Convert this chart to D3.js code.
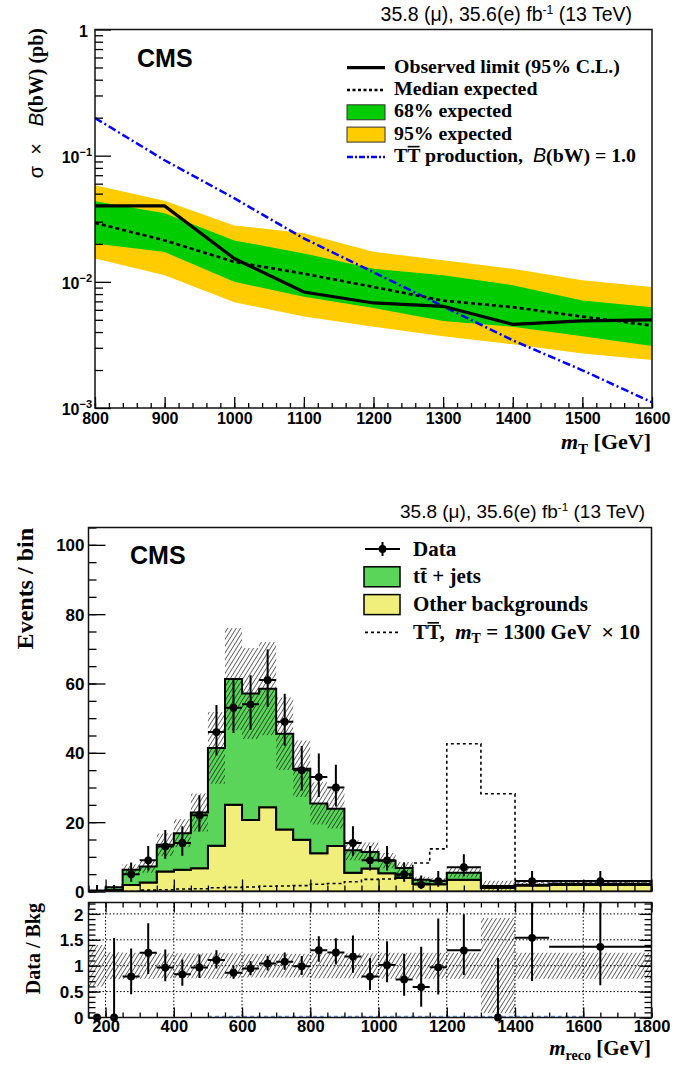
<!DOCTYPE html>
<html>
<head>
<meta charset="utf-8">
<script src="https://cdn.jsdelivr.net/npm/d3@7"></script>
<style>
body { margin: 0; background: #fff; }
svg { display: block; }
text { white-space: pre; }
</style>
</head>
<body>
<svg id="chart" width="690" height="1067"></svg>
<script>
// ---------- upper plot: cross section limits vs m_T
const massPoints = [800, 900, 1000, 1100, 1200, 1300, 1400, 1500, 1600];
const observed   = [0.040, 0.040, 0.0153, 0.0083, 0.0068, 0.0064, 0.0046, 0.0049, 0.0050];
const expMedian  = [0.0293, 0.0213, 0.0144, 0.0116, 0.0091, 0.0071, 0.0063, 0.0053, 0.0045];
const exp68Lo    = [0.0201, 0.0172, 0.0100, 0.0076, 0.0062, 0.0049, 0.0044, 0.0037, 0.0031];
const exp68Hi    = [0.0435, 0.0350, 0.0213, 0.0168, 0.0127, 0.0113, 0.0094, 0.0071, 0.0063];
const exp95Lo    = [0.0153, 0.0113, 0.0069, 0.0053, 0.0044, 0.0037, 0.0032, 0.0027, 0.0024];
const exp95Hi    = [0.0583, 0.0440, 0.0280, 0.0243, 0.0173, 0.0148, 0.0127, 0.0103, 0.0091];
const xsecTT     = [0.199, 0.092, 0.046, 0.0221, 0.0119, 0.0064, 0.00344, 0.00199, 0.00111];

// ---------- lower plot: m_reco distribution
const binEdges  = [150, 200, 250, 300, 350, 400, 450, 500, 550, 600, 650, 700, 750, 800, 850,
                   900, 950, 1000, 1050, 1100, 1150, 1200, 1300, 1400, 1500, 1800];
const ttJets    = [0.2, 0.8, 4.4, 4.6, 7.7, 10.5, 16.1, 28.2, 36.3, 36.5, 34.2, 27.6, 20.5, 14.4, 10.8,
                   6.5, 4.8, 3.6, 2.9, 1.2, 1.0, 2.0, 0.5, 0.25, 0.3];
const otherBkg  = [0.1, 0.4, 1.9, 2.6, 5.8, 6.3, 6.7, 13.2, 25.0, 20.6, 24.3, 17.9, 14.9, 11.0, 13.1,
                   5.4, 6.6, 5.3, 3.9, 2.2, 2.1, 3.4, 1.1, 1.7, 1.9];
const bkgRelUnc = [0.4, 0.26, 0.25, 0.25, 0.24, 0.24, 0.24, 0.25, 0.24, 0.23, 0.23, 0.23, 0.23, 0.24, 0.24,
                   0.24, 0.24, 0.25, 0.25, 0.25, 0.25, 0.25, 0.92, 0.25, 0.25];
const signalX10 = [0, 0, 0, 0.4, 0.5, 0.7, 0.8, 1.1, 1.2, 1.3, 1.5, 1.6, 1.7, 2.1, 2.3,
                   2.8, 3.5, 3.6, 4.5, 8.2, 12.3, 42.6, 28.2, 2.8, 2.8];
const dataCounts = [0, 0, 5, 9, 13, 14, 22, 46, 53, 54, 61, 49, 35, 33, 30, 14, 9, 9, 5, 2, 3, 7, 0, 3, 3];
const dataErrLo  = [0, 0, 2.16, 2.94, 3.58, 3.71, 4.66, 6.76, 7.26, 7.33, 7.80, 6.98, 5.89, 5.72, 5.46,
                    3.71, 2.94, 2.94, 2.16, 1.29, 1.63, 2.58, 0, 1.63, 1.63];
const dataErrHi  = [1.84, 1.84, 3.38, 4.11, 4.71, 4.85, 5.76, 7.83, 8.33, 8.40, 8.87, 8.05, 6.97, 6.80, 6.54,
                    4.85, 4.11, 4.11, 3.38, 2.64, 2.92, 3.77, 1.84, 2.92, 2.92];

const SANS = '"Liberation Sans", Arial, Helvetica, sans-serif';
const SERIF = '"Liberation Serif", "Times New Roman", serif';
const GREEN_BAND = '#00cc00', YELLOW_BAND = '#ffcc00';
const TT_COLOR = '#5ad55a', OTHER_COLOR = '#f0ef7c';

const svg = d3.select('#chart');
const defs = svg.append('defs');
defs.append('pattern')
    .attr('id', 'hatch').attr('patternUnits', 'userSpaceOnUse')
    .attr('width', 3.6).attr('height', 8)
    .attr('patternTransform', 'rotate(32)')
    .append('line')
    .attr('x1', 0).attr('y1', -1).attr('x2', 0).attr('y2', 9)
    .attr('stroke', '#000').attr('stroke-width', 1.15);

function styleAxis (g, size) {
    g.select('.domain').remove();
    g.attr('font-family', SANS).attr('font-size', size).attr('font-weight', 'bold');
    g.selectAll('line').attr('stroke', '#000').attr('stroke-width', 1.3);
    g.selectAll('text').attr('fill', '#000');
    return g;
}

function lumiLabel (right, y, size) {
    let t = svg.append('text').attr('x', right).attr('y', y)
        .attr('text-anchor', 'end').attr('font-family', SANS).attr('font-size', size);
    t.append('tspan').text('35.8 (\u03bc), 35.6(e) fb');
    t.append('tspan').attr('dy', -7).attr('font-size', size * 0.62).text('-1');
    t.append('tspan').attr('dy', 7).text(' (13 TeV)');
}

function cmsLabel (x, y) {
    svg.append('text').attr('x', x).attr('y', y)
        .attr('font-family', SANS).attr('font-weight', 'bold').attr('font-size', 25)
        .text('CMS');
}

// bar over one glyph of a text (the "anti" particle mark)
function overline (textSel, idx, baseline, size) {
    let ext = textSel.node().getExtentOfChar(idx);
    let y = baseline - size * 0.66 - 2.2;
    svg.append('line')
        .attr('x1', ext.x + 0.5).attr('x2', ext.x + ext.width - 0.5)
        .attr('y1', y).attr('y2', y)
        .attr('stroke', '#000').attr('stroke-width', 1.6);
}

// =================== upper plot ===================
const up = { l: 95, r: 652, t: 29.5, b: 408 };
const xT = d3.scaleLinear().domain([800, 1600]).range([up.l, up.r]);
const yT = d3.scaleLog().domain([1e-3, 1]).range([up.b, up.t]);

const limRows = massPoints.map((m, i) => ({
    m: m, obs: observed[i], med: expMedian[i],
    lo68: exp68Lo[i], hi68: exp68Hi[i], lo95: exp95Lo[i], hi95: exp95Hi[i], th: xsecTT[i],
}));

defs.append('clipPath').attr('id', 'clipTop')
    .append('rect').attr('x', up.l).attr('y', up.t).attr('width', up.r - up.l).attr('height', up.b - up.t);

const gTop = svg.append('g').attr('clip-path', 'url(#clipTop)');
gTop.append('path').datum(limRows)
    .attr('fill', YELLOW_BAND)
    .attr('d', d3.area().x(d => xT(d.m)).y0(d => yT(d.lo95)).y1(d => yT(d.hi95)));
gTop.append('path').datum(limRows)
    .attr('fill', GREEN_BAND)
    .attr('d', d3.area().x(d => xT(d.m)).y0(d => yT(d.lo68)).y1(d => yT(d.hi68)));
gTop.append('path').datum(limRows)
    .attr('fill', 'none').attr('stroke', '#0000ff').attr('stroke-width', 2.5)
    .attr('stroke-dasharray', '8,3,2,3')
    .attr('d', d3.line().x(d => xT(d.m)).y(d => yT(d.th)));
gTop.append('path').datum(limRows)
    .attr('fill', 'none').attr('stroke', '#000').attr('stroke-width', 2.6)
    .attr('stroke-dasharray', '4,3')
    .attr('d', d3.line().x(d => xT(d.m)).y(d => yT(d.med)));
gTop.append('path').datum(limRows)
    .attr('fill', 'none').attr('stroke', '#000').attr('stroke-width', 3.2)
    .attr('d', d3.line().x(d => xT(d.m)).y(d => yT(d.obs)));

// axes of the upper plot
styleAxis(svg.append('g').attr('transform', `translate(0,${up.b})`)
    .call(d3.axisBottom(xT).tickValues(d3.range(800, 1601, 100)).tickSize(-11).tickPadding(5)
        .tickFormat(d3.format('d'))), 16);
styleAxis(svg.append('g').attr('transform', `translate(0,${up.b})`)
    .call(d3.axisBottom(xT).tickValues(d3.range(800, 1601, 20)).tickSize(-5).tickFormat('')), 16);

const logMinor = [];
[1e-3, 1e-2, 1e-1].forEach(dec => { for (let k = 2; k <= 9; k++) logMinor.push(dec * k); });
styleAxis(svg.append('g').attr('transform', `translate(${up.l},0)`)
    .call(d3.axisLeft(yT).tickValues(logMinor).tickSize(-8).tickFormat('')), 16);
const yTopAxis = styleAxis(svg.append('g').attr('transform', `translate(${up.l},0)`)
    .call(d3.axisLeft(yT).tickValues([1e-3, 1e-2, 1e-1, 1]).tickSize(-16).tickPadding(3)), 16);
yTopAxis.selectAll('text').each(function (d) {
    let t = d3.select(this).text('').attr('dy', '0.42em');
    let p = Math.round(Math.log10(d));
    if (p === 0) { t.attr('dx', -4).append('tspan').text('1'); return; }
    t.append('tspan').text('10');
    t.append('tspan').attr('dy', -7).attr('font-size', 11).text('\u2212' + (-p));
});

svg.append('rect').attr('x', up.l).attr('y', up.t).attr('width', up.r - up.l).attr('height', up.b - up.t)
    .attr('fill', 'none').attr('stroke', '#111').attr('stroke-width', 1.5);

lumiLabel(632, 20.7, 19.5);
cmsLabel(137, 67);

// y title
let ytTop = svg.append('text').attr('transform', 'translate(43,28) rotate(-90)')
    .attr('text-anchor', 'end').attr('font-size', 20);
ytTop.append('tspan').attr('font-family', SANS).text('\u03c3  \u00d7   ');
ytTop.append('tspan').attr('font-family', SANS).attr('font-style', 'italic').text('B');
ytTop.append('tspan').attr('font-family', SERIF).attr('font-weight', 'bold').text('(bW) (pb)');

// x title
let xtTop = svg.append('text').attr('x', 651).attr('y', 449).attr('text-anchor', 'end')
    .attr('font-family', SERIF).attr('font-weight', 'bold').attr('font-size', 22);
xtTop.append('tspan').attr('font-style', 'italic').text('m');
xtTop.append('tspan').attr('font-size', 15).attr('dy', 5).text('T');
xtTop.append('tspan').attr('dy', -5).text(' [GeV]');

// legend of the upper plot
const topLegend = [
    { label: 'Observed limit (95% C.L.)', kind: 'line', stroke: '#000', width: 3.2, dash: null },
    { label: 'Median expected', kind: 'line', stroke: '#000', width: 2.6, dash: '3,2.5' },
    { label: '68% expected', kind: 'box', fill: GREEN_BAND },
    { label: '95% expected', kind: 'box', fill: YELLOW_BAND },
    { label: 'TT', kind: 'line', stroke: '#0000ff', width: 2.5, dash: '6,2,2,2' },
];
topLegend.forEach((e, i) => {
    let base = 72.7 + i * 22.3;
    let cy = base - 5;
    if (e.kind === 'line') {
        svg.append('line').attr('x1', 347).attr('x2', 385).attr('y1', cy).attr('y2', cy)
            .attr('stroke', e.stroke).attr('stroke-width', e.width)
            .attr('stroke-dasharray', e.dash);
    } else {
        svg.append('rect').attr('x', 347).attr('y', cy - 7.5).attr('width', 38).attr('height', 15)
            .attr('fill', e.fill).attr('stroke', '#333').attr('stroke-width', 1);
    }
    let t = svg.append('text').attr('x', 394).attr('y', base)
        .attr('font-family', SERIF).attr('font-weight', 'bold').attr('font-size', 19.8);
    if (i < 4) {
        t.text(e.label);
    } else {
        t.append('tspan').text('TT');
        t.append('tspan').text(' production,  ');
        t.append('tspan').attr('font-family', SANS).attr('font-weight', 'normal')
            .attr('font-style', 'italic').text('B');
        t.append('tspan').text('(bW) = 1.0');
        overline(t, 1, base, 19.8);
    }
});

// =================== lower plot ===================
const lo = { l: 88.5, r: 651.5, t: 527.5, b: 891.5 };
const rp = { t: 902.5, b: 1017.5 };
const xB = d3.scaleLinear().domain([150, 1800]).range([lo.l, lo.r]);
const yB = d3.scaleLinear().domain([0, 105]).range([lo.b, lo.t]);
const yR = d3.scaleLinear().domain([0, 2.22]).range([rp.b, rp.t]);

const bins = dataCounts.map((n, i) => ({
    x0: binEdges[i], x1: binEdges[i + 1], xc: (binEdges[i] + binEdges[i + 1]) / 2,
    tt: ttJets[i], other: otherBkg[i], sig: signalX10[i], rel: bkgRelUnc[i],
    n: n, eLo: dataErrLo[i], eHi: dataErrHi[i],
}));
const stacked = d3.stack().keys(['other', 'tt'])(bins);
bins.forEach((b, i) => { b.total = stacked[1][i][1]; });

// repeat last bin at the upper edge so that step curves close
function stepRows (rows, f0, f1) {
    let pts = rows.map(r => ({ x: r.x0, y0: f0(r), y1: f1(r) }));
    let last = rows[rows.length - 1];
    pts.push({ x: last.x1, y0: f0(last), y1: f1(last) });
    return pts;
}

defs.append('clipPath').attr('id', 'clipMain')
    .append('rect').attr('x', lo.l).attr('y', lo.t).attr('width', lo.r - lo.l).attr('height', lo.b - lo.t);
defs.append('clipPath').attr('id', 'clipRatio')
    .append('rect').attr('x', lo.l).attr('y', rp.t).attr('width', lo.r - lo.l).attr('height', rp.b - rp.t);

const gMain = svg.append('g').attr('clip-path', 'url(#clipMain)');
const stepArea = d3.area().curve(d3.curveStepAfter)
    .x(d => xB(d.x)).y0(d => yB(d.y0)).y1(d => yB(d.y1));

stacked.forEach((layer, k) => {
    let rows = bins.map((b, i) => ({ x0: b.x0, x1: b.x1, lo: layer[i][0], hi: layer[i][1] }));
    gMain.append('path').datum(stepRows(rows, r => r.lo, r => r.hi))
        .attr('fill', k === 0 ? OTHER_COLOR : TT_COLOR)
        .attr('stroke', '#000').attr('stroke-width', 2).attr('stroke-linejoin', 'miter')
        .attr('d', stepArea);
});

gMain.append('path').datum(stepRows(bins, b => b.total * (1 - b.rel), b => b.total * (1 + b.rel)))
    .attr('fill', 'url(#hatch)').attr('d', stepArea);

gMain.append('path').datum(stepRows(bins, () => 0, b => b.sig))
    .attr('fill', 'none').attr('stroke', '#000').attr('stroke-width', 1.6)
    .attr('stroke-dasharray', '3,3')
    .attr('d', d3.line().curve(d3.curveStepAfter).x(d => xB(d.x)).y(d => yB(d.y1)));

// data points on the main panel
const gData = gMain.append('g');
bins.forEach(b => {
    gData.append('line').attr('x1', xB(b.xc)).attr('x2', xB(b.xc))
        .attr('y1', yB(b.n - b.eLo)).attr('y2', yB(b.n + b.eHi))
        .attr('stroke', '#000').attr('stroke-width', 2);
    if (b.n > 0) {
        gData.append('line').attr('x1', xB(b.x0)).attr('x2', xB(b.x1))
            .attr('y1', yB(b.n)).attr('y2', yB(b.n))
            .attr('stroke', '#000').attr('stroke-width', 2);
        gData.append('circle').attr('cx', xB(b.xc)).attr('cy', yB(b.n)).attr('r', 3.9).attr('fill', '#000');
    }
});

// axes of main panel
styleAxis(svg.append('g').attr('transform', `translate(${lo.l},0)`)
    .call(d3.axisLeft(yB).tickValues(d3.range(0, 106, 5)).tickSize(-8).tickFormat('')), 17);
styleAxis(svg.append('g').attr('transform', `translate(${lo.l},0)`)
    .call(d3.axisLeft(yB).tickValues(d3.range(0, 101, 20)).tickSize(-17).tickPadding(4)), 17)
    .selectAll('text').attr('dy', '0.36em');
styleAxis(svg.append('g').attr('transform', `translate(0,${lo.b})`)
    .call(d3.axisBottom(xB).tickValues(d3.range(150, 1801, 50)).tickSize(-6).tickFormat('')), 17);
styleAxis(svg.append('g').attr('transform', `translate(0,${lo.b})`)
    .call(d3.axisBottom(xB).tickValues(d3.range(200, 1801, 200)).tickSize(-12).tickFormat('')), 17);

svg.append('rect').attr('x', lo.l).attr('y', lo.t).attr('width', lo.r - lo.l).attr('height', lo.b - lo.t)
    .attr('fill', 'none').attr('stroke', '#111').attr('stroke-width', 1.5);

lumiLabel(645, 518, 19);
cmsLabel(130, 564);

svg.append('text').attr('transform', 'translate(33,528) rotate(-90)').attr('text-anchor', 'end')
    .attr('font-family', SERIF).attr('font-weight', 'bold').attr('font-size', 24)
    .text('Events / bin');

// legend of the lower plot
const botLegend = ['Data', 'tt', 'Other backgrounds', 'TT'];
botLegend.forEach((lab, i) => {
    let cy = 549 + i * 27.8;
    let base = cy + 6.5;
    if (i === 0) {
        svg.append('line').attr('x1', 365).attr('x2', 400).attr('y1', cy).attr('y2', cy)
            .attr('stroke', '#000').attr('stroke-width', 2);
        svg.append('line').attr('x1', 382.5).attr('x2', 382.5).attr('y1', cy - 7).attr('y2', cy + 7)
            .attr('stroke', '#000').attr('stroke-width', 2);
        svg.append('circle').attr('cx', 382.5).attr('cy', cy).attr('r', 3.9).attr('fill', '#000');
    } else if (i < 3) {
        svg.append('rect').attr('x', 364).attr('y', cy - 10).attr('width', 36).attr('height', 20)
            .attr('fill', i === 1 ? TT_COLOR : OTHER_COLOR).attr('stroke', '#000').attr('stroke-width', 1.5);
    } else {
        svg.append('line').attr('x1', 365).attr('x2', 400).attr('y1', cy).attr('y2', cy)
            .attr('stroke', '#000').attr('stroke-width', 1.6).attr('stroke-dasharray', '3,3');
    }
    let t = svg.append('text').attr('x', 413).attr('y', base)
        .attr('font-family', SERIF).attr('font-weight', 'bold').attr('font-size', 21);
    if (i === 0 || i === 2) {
        t.text(lab);
    } else if (i === 1) {
        t.append('tspan').text('tt + jets');
        overline(t, 1, base + 1.5, 21);
    } else {
        t.append('tspan').text('TT,  ');
        t.append('tspan').attr('font-style', 'italic').text('m');
        t.append('tspan').attr('font-size', 14).attr('dy', 4).text('T');
        t.append('tspan').attr('dy', -4).text(' = 1300 GeV  ');
        t.append('tspan').attr('font-family', SANS).attr('font-weight', 'normal').text('\u00d7');
        t.append('tspan').text(' 10');
        overline(t, 1, base, 21);
    }
});

// =================== ratio panel ===================
const gRatio = svg.append('g').attr('clip-path', 'url(#clipRatio)');

// dotted grid
gRatio.selectAll('line.gx').data(d3.range(200, 1601, 200)).join('line')
    .attr('x1', d => xB(d)).attr('x2', d => xB(d)).attr('y1', rp.t).attr('y2', rp.b)
    .attr('stroke', '#000').attr('stroke-width', 1).attr('stroke-dasharray', '1.5,2');
gRatio.selectAll('line.gy').data([0.5, 1, 1.5, 2]).join('line')
    .attr('x1', lo.l).attr('x2', lo.r).attr('y1', d => yR(d)).attr('y2', d => yR(d))
    .attr('stroke', '#000').attr('stroke-width', 1).attr('stroke-dasharray', '1.5,2');

gRatio.append('path').datum(stepRows(bins, b => 1 - b.rel, b => 1 + b.rel))
    .attr('fill', 'url(#hatch)')
    .attr('d', d3.area().curve(d3.curveStepAfter).x(d => xB(d.x)).y0(d => yR(d.y0)).y1(d => yR(d.y1)));

gRatio.append('line').attr('x1', xB(500)).attr('x2', xB(1600)).attr('y1', yR(0) - 1).attr('y2', yR(0) - 1)
    .attr('stroke', '#6f93cf').attr('stroke-width', 1.5).attr('stroke-dasharray', '4,3');

const gRatioPts = svg.append('g').attr('clip-path', 'url(#clipRatio)');
bins.forEach(b => {
    let r = b.n / b.total;
    if (b.total > 0.5) {
        gRatioPts.append('line').attr('x1', xB(b.xc)).attr('x2', xB(b.xc))
            .attr('y1', yR(r - b.eLo / b.total)).attr('y2', yR(r + b.eHi / b.total))
            .attr('stroke', '#000').attr('stroke-width', 2);
    }
    if (b.n > 0) {
        gRatioPts.append('line').attr('x1', xB(b.x0)).attr('x2', xB(b.x1))
            .attr('y1', yR(r)).attr('y2', yR(r))
            .attr('stroke', '#000').attr('stroke-width', 2);
    }
});
svg.append('g').selectAll('circle').data(bins).join('circle')
    .attr('cx', d => xB(d.xc)).attr('cy', d => yR(d.n / d.total)).attr('r', 3.9).attr('fill', '#000');

// ratio axes
styleAxis(svg.append('g').attr('transform', `translate(${lo.l},0)`)
    .call(d3.axisLeft(yR).tickValues(d3.range(0, 2.21, 0.1)).tickSize(-7).tickFormat('')), 17);
styleAxis(svg.append('g').attr('transform', `translate(${lo.l},0)`)
    .call(d3.axisLeft(yR).tickValues([0, 0.5, 1, 1.5, 2]).tickSize(-12).tickPadding(5)
        .tickFormat(d3.format('~g'))), 17)
    .selectAll('text').attr('dy', '0.36em');
styleAxis(svg.append('g').attr('transform', `translate(${lo.r},0)`)
    .call(d3.axisRight(yR).tickValues(d3.range(0, 2.21, 0.1)).tickSize(-7).tickFormat('')), 17);
styleAxis(svg.append('g').attr('transform', `translate(${lo.r},0)`)
    .call(d3.axisRight(yR).tickValues([0, 0.5, 1, 1.5, 2]).tickSize(-12).tickFormat('')), 17);
styleAxis(svg.append('g').attr('transform', `translate(0,${rp.b})`)
    .call(d3.axisBottom(xB).tickValues(d3.range(150, 1801, 50)).tickSize(-5).tickFormat('')), 17);
styleAxis(svg.append('g').attr('transform', `translate(0,${rp.b})`)
    .call(d3.axisBottom(xB).tickValues(d3.range(200, 1801, 200)).tickSize(-10).tickPadding(3)
        .tickFormat(d3.format('d'))), 16.5);
styleAxis(svg.append('g').attr('transform', `translate(0,${rp.t})`)
    .call(d3.axisTop(xB).tickValues(d3.range(150, 1801, 50)).tickSize(-5).tickFormat('')), 17);
styleAxis(svg.append('g').attr('transform', `translate(0,${rp.t})`)
    .call(d3.axisTop(xB).tickValues(d3.range(200, 1801, 200)).tickSize(-10).tickFormat('')), 17);

svg.append('rect').attr('x', lo.l).attr('y', rp.t).attr('width', lo.r - lo.l).attr('height', rp.b - rp.t)
    .attr('fill', 'none').attr('stroke', '#111').attr('stroke-width', 1.5);

svg.append('text').attr('transform', 'translate(40,903) rotate(-90)').attr('text-anchor', 'end')
    .attr('font-family', SERIF).attr('font-weight', 'bold').attr('font-size', 20)
    .text('Data / Bkg');

let xtBot = svg.append('text').attr('x', 651).attr('y', 1055).attr('text-anchor', 'end')
    .attr('font-family', SERIF).attr('font-weight', 'bold').attr('font-size', 21);
xtBot.append('tspan').attr('font-style', 'italic').text('m');
xtBot.append('tspan').attr('font-size', 14).attr('dy', 5).text('reco');
xtBot.append('tspan').attr('dy', -5).text(' [GeV]');
</script>
</body>
</html>
